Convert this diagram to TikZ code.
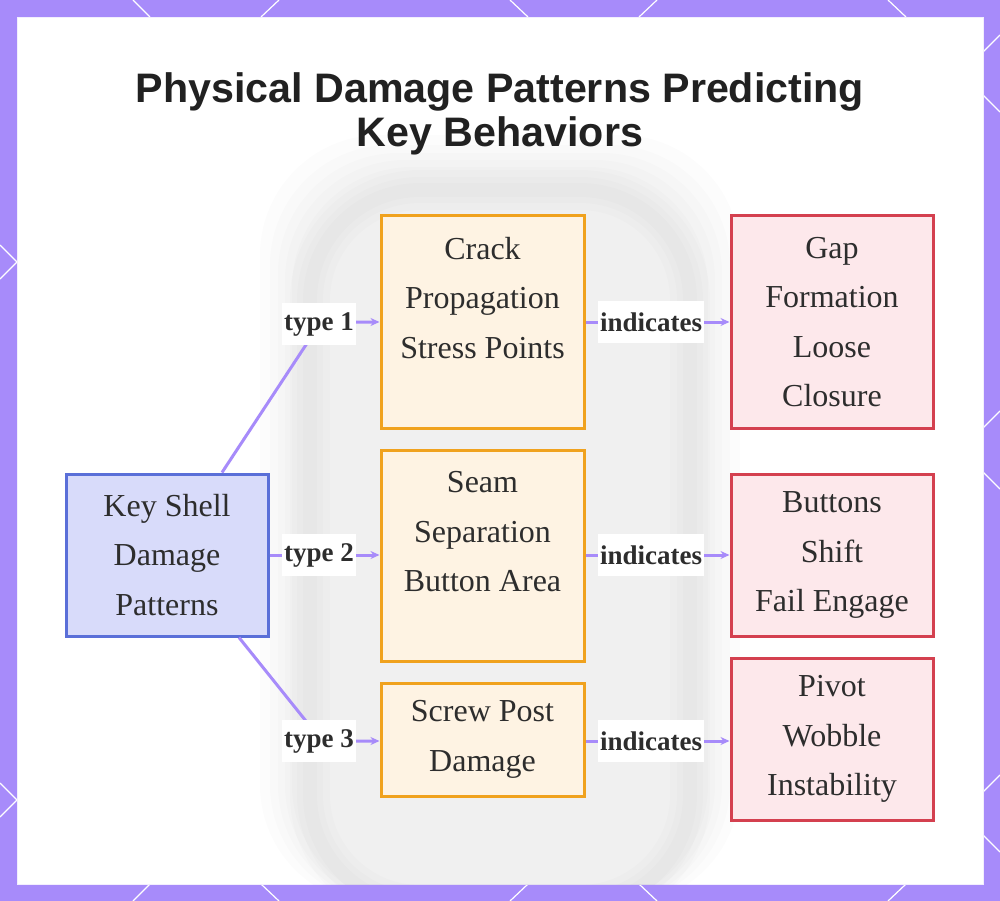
\documentclass[tikz,border=0pt]{standalone}
\usepackage{fontspec}
\setmainfont{Liberation Serif}
\newfontfamily\titlefont{Liberation Sans}
\usetikzlibrary{arrows.meta}
\definecolor{frame}{RGB}{167,139,250}
\definecolor{edgec}{RGB}{167,139,250}
\definecolor{bluefill}{RGB}{216,219,250}
\definecolor{blueline}{RGB}{90,111,216}
\definecolor{orfill}{RGB}{254,243,227}
\definecolor{orline}{RGB}{240,162,30}
\definecolor{redfill}{RGB}{253,232,235}
\definecolor{redline}{RGB}{212,64,79}
\definecolor{txt}{RGB}{45,45,45}
\begin{document}
\begin{tikzpicture}[x=1pt,y=-1pt,
  box/.style={draw, line width=3pt, inner sep=0pt, align=center, text=txt,
    font=\fontsize{32}{49.5}\selectfont},
  bluebox/.style={box, draw=blueline, fill=bluefill},
  orbox/.style={box, draw=orline, fill=orfill, minimum width=203pt},
  redbox/.style={box, draw=redline, fill=redfill, minimum width=202pt},
  nodetext/.style={align=center, text=txt, inner sep=0pt, font=\fontsize{32}{49.5}\selectfont},
  lbl/.style={fill=white, text=txt, inner xsep=2pt, inner ysep=0pt, minimum height=42pt,
    font=\fontsize{27}{30}\selectfont\bfseries},
  edge/.style={draw=edgec, line width=3pt, -{Stealth[length=9pt,width=8pt]}},
  hexline/.style={draw=white, line width=1.2pt}
]
\useasboundingbox (0,0) rectangle (1000,901);
% frame
\fill[frame] (0,0) rectangle (1000,901);
\path[hexline] (133,0)--(150,17) (279,0)--(261,17) (510,0)--(528,17) (657,0)--(639,17) (888,0)--(906,17);
\path[hexline] (150,884)--(133,901) (261,884)--(279,901) (528,884)--(510,901) (639,884)--(657,901) (906,884)--(888,901);
\path[hexline] (0,245)--(17,262)--(0,279) (0,783)--(17,800)--(0,817);
\path[hexline] (983,52)--(1000,35) (983,95)--(1000,112) (983,428)--(1000,411) (983,472)--(1000,489) (983,792)--(1000,775) (983,835)--(1000,852);
\fill[white] (17,17) rectangle (983,884);
\draw[white!85!frame, line width=0.8pt] (17,17) rectangle (983,884);
% faint blurred background shape
\begin{scope}
\clip (17,17) rectangle (983,884);
\foreach \w in {80,60,44,30,16}
  \fill[black, opacity=0.011, rounded corners=120pt] (300-\w/2,175-\w/2) rectangle (700+\w/2,905);
\foreach \w in {40,26,14}
  \draw[black, opacity=0.01, line width=\w pt, rounded corners=110pt] (310,190) rectangle (690,905);
\end{scope}
% title
\node[font=\titlefont\bfseries\fontsize{41.2}{44}\selectfont, text=black!87, align=center] (title) at (500,114) {Physical Damage Patterns Predicting\\Key Behaviors};
% nodes
\node[bluebox, minimum width=202pt, minimum height=162pt] (ks) at (167,555) {Key Shell\\Damage\\Patterns};
\node[orbox, minimum height=212pt] (crack) at (482.5,322) {};
\node[nodetext] (cracktxt) at (482.5,298) {Crack\\Propagation\\Stress Points};
\node[orbox, minimum height=211pt] (seam) at (482.5,555.5) {};
\node[nodetext] (seamtxt) at (482.5,532) {Seam\\Separation\\Button Area};
\node[orbox, minimum height=113pt] (screw) at (482.5,739.5) {Screw Post\\Damage};
\node[redbox, minimum height=212pt] (gap) at (832,322) {Gap\\Formation\\Loose\\Closure};
\node[redbox, minimum height=162pt] (buttons) at (832,555) {Buttons\\Shift\\Fail Engage};
\node[redbox, minimum height=162pt] (pivot) at (832,739) {Pivot\\Wobble\\Instability};
% connectors
\coordinate (b1) at (321,322);
\coordinate (b2) at (319,555);
\coordinate (b3) at (322,741);
\draw[edge] ([xshift=55pt]ks.north) -- (b1) -- (b1 -| crack.west);
\node[lbl] (l1) at (319,324) {type 1};
\draw[edge] (ks.east) -- (b2 -| seam.west);
\node[lbl] (l2) at (b2) {type 2};
\draw[edge] ([xshift=72pt]ks.south) -- (b3) -- (b3 -| screw.west);
\node[lbl] (l3) at (319,741) {type 3};
\draw[edge] (crack.east |- b1) -- node[lbl, pos=0.455] (i1) {indicates} (gap.west |- b1);
\draw[edge] (seam.east |- b2) -- node[lbl, pos=0.455] (i2) {indicates} (buttons.west |- b2);
\draw[edge] (screw.east |- b3) -- node[lbl, pos=0.455] (i3) {indicates} (pivot.west |- b3);
\end{tikzpicture}
\end{document}
